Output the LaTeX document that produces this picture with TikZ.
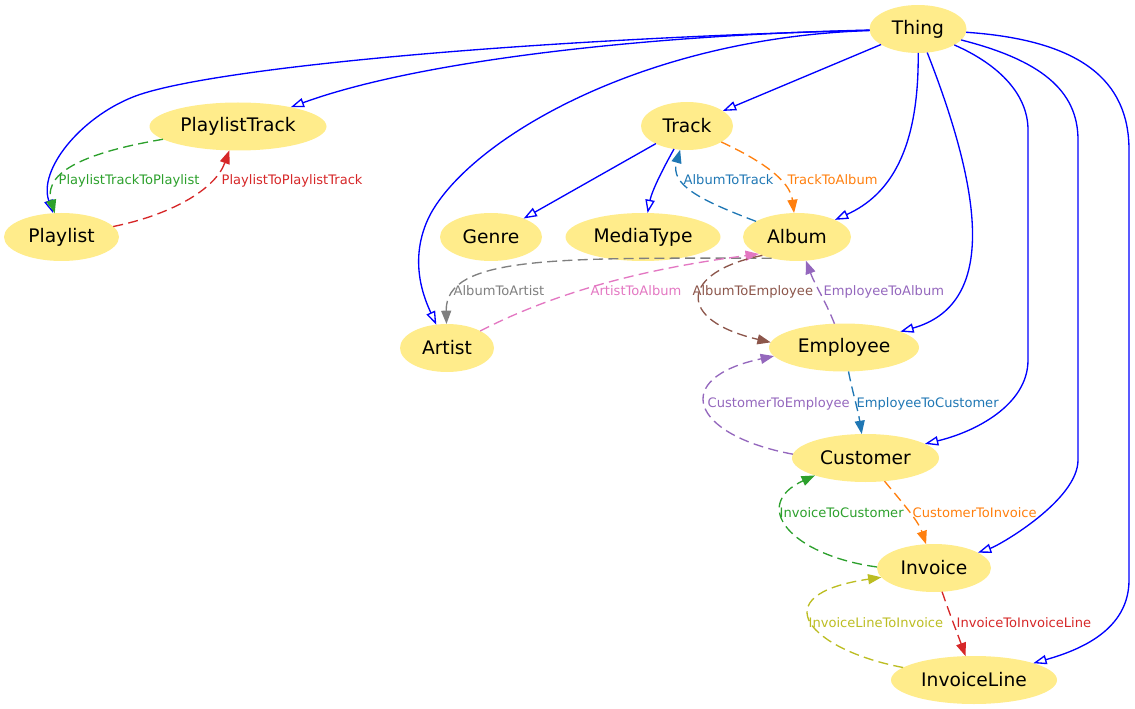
\documentclass[tikz,border=0pt]{standalone}
\usepackage{fontspec}
\setmainfont{DejaVu Sans}
\usepackage{tikz}
\usetikzlibrary{shapes.geometric,arrows.meta}
\usepackage{xcolor}

\definecolor{classfill}{RGB}{255,236,139}
\definecolor{tabblue}{HTML}{1F77B4}
\definecolor{taborange}{HTML}{FF7F0E}
\definecolor{tabgreen}{HTML}{2CA02C}
\definecolor{tabred}{HTML}{D62728}
\definecolor{tabpurple}{HTML}{9467BD}
\definecolor{tabbrown}{HTML}{8C564B}
\definecolor{tabpink}{HTML}{E377C2}
\definecolor{tabgray}{HTML}{7F7F7F}
\definecolor{tabolive}{HTML}{BCBD22}

\begin{document}
\begin{tikzpicture}[x=0.75pt, y=-0.75pt, line width=1pt,
  cls/.style={ellipse, fill=classfill, inner sep=0pt, outer sep=0pt,
    minimum height=36pt, minimum width=#1*0.75pt, font=\fontsize{14}{16}\selectfont},
  isa/.style={draw=blue, -{Triangle[open, length=10pt, width=7pt]}},
  rel/.style={draw=#1, dash pattern=on 7.5pt off 4pt, -{Triangle[length=10pt, width=7.5pt]}},
  lbl/.style={inner sep=0pt, anchor=base west, text=#1, font=\fontsize{9.8}{12}\selectfont}]
  \useasboundingbox (0,0) rectangle (1135,709);

  % Classes
  \node[cls=97]  (thing)       at (918,29)    {Thing};
  \node[cls=177] (plt)         at (238,126.5) {PlaylistTrack};
  \node[cls=92]  (track)       at (687,126)   {Track};
  \node[cls=115] (playlist)    at (61.5,237)  {Playlist};
  \node[cls=102] (genre)       at (491,237)   {Genre};
  \node[cls=155] (mediatype)   at (643,237)   {MediaType};
  \node[cls=108] (album)       at (797,237)   {Album};
  \node[cls=94]  (artist)      at (447,348)   {Artist};
  \node[cls=150] (employee)    at (844,347.5) {Employee};
  \node[cls=147] (customer)    at (865.5,458) {Customer};
  \node[cls=114] (invoice)     at (934,568)   {Invoice};
  \node[cls=166] (invoiceline) at (974,680)   {InvoiceLine};

  % Subclass edges
  \draw[isa] (thing) .. controls (500,40) and (200,70) .. (133,97)
             .. controls (80,118) and (38,170) .. (playlist);
  \draw[isa] (thing) .. controls (650,35) and (420,60) .. (plt);
  \draw[isa] (thing) .. controls (640,38) and (470,140) .. (430,215)
             .. controls (407,260) and (425,300) .. (artist);
  \draw[isa] (thing) -- (track);
  \draw[isa] (thing) .. controls (919,150) and (890,195) .. (album);
  \draw[isa] (thing) .. controls (985,200) and (995,305) .. (employee);
  \draw[isa] (thing) .. controls (1000,65) and (1028,95) .. (1028,130) -- (1028,360)
             .. controls (1028,405) and (975,432) .. (customer);
  \draw[isa] (thing) .. controls (1040,60) and (1078,90) .. (1078,140) -- (1078,460)
             .. controls (1078,500) and (1000,545) .. (invoice);
  \draw[isa] (thing) .. controls (1080,40) and (1129,80) .. (1129,150) -- (1129,580)
             .. controls (1129,630) and (1080,650) .. (invoiceline);
  \draw[isa] (track) -- (genre);
  \draw[isa] (track) .. controls (665,165) and (652,190) .. (mediatype);

  % Relations
  \draw[rel=tabgreen]  (plt) .. controls (100,150) and (42,168) .. (playlist);
  \draw[rel=tabred]    (playlist) .. controls (170,215) and (215,190) .. (plt);
  \draw[rel=tabblue]   (album) .. controls (700,200) and (670,185) .. (track);
  \draw[rel=taborange] (track) .. controls (760,160) and (790,180) .. (album);
  \draw[rel=tabgray]   (album.220) .. controls (560,258) and (445,255) .. (artist);
  \draw[rel=tabpink]   (artist) .. controls (560,290) and (650,268) .. (album.204);
  \draw[rel=tabbrown]  (album.208) .. controls (680,272) and (675,320) .. (employee.176);
  \draw[rel=tabpurple] (employee) .. controls (825,300) and (815,285) .. (album);
  \draw[rel=tabpurple] (customer.177) .. controls (690,435) and (670,378) .. (employee.187);
  \draw[rel=tabblue]   (employee) .. controls (852,390) and (858,410) .. (customer);
  \draw[rel=tabgreen]  (invoice.179) .. controls (790,555) and (750,505) .. (customer.199);
  \draw[rel=taborange] (customer) .. controls (900,500) and (918,520) .. (invoice);
  \draw[rel=tabolive]  (invoiceline.170) .. controls (810,650) and (760,595) .. (invoice.190);
  \draw[rel=tabred]    (invoice) .. controls (950,615) and (958,635) .. (invoiceline);

  % Relation labels
  \node[lbl=tabgreen]  (lPltPl)   at (58,185)  {PlaylistTrackToPlaylist};
  \node[lbl=tabred]    (lPlPlt)   at (221,185) {PlaylistToPlaylistTrack};
  \node[lbl=tabblue]   (lAlTr)    at (683,185) {AlbumToTrack};
  \node[lbl=taborange] (lTrAl)    at (787,185) {TrackToAlbum};
  \node[lbl=tabgray]   (lAlAr)    at (453,296) {AlbumToArtist};
  \node[lbl=tabpink]   (lArAl)    at (590,296) {ArtistToAlbum};
  \node[lbl=tabbrown]  (lAlEm)    at (692,296) {AlbumToEmployee};
  \node[lbl=tabpurple] (lEmAl)    at (823,296) {EmployeeToAlbum};
  \node[lbl=tabpurple] (lCuEm)    at (707,407) {CustomerToEmployee};
  \node[lbl=tabblue]   (lEmCu)    at (856,407) {EmployeeToCustomer};
  \node[lbl=tabgreen]  (lInCu)    at (779,517) {InvoiceToCustomer};
  \node[lbl=taborange] (lCuIn)    at (912,517) {CustomerToInvoice};
  \node[lbl=tabolive]  (lIlIn)    at (808,627) {InvoiceLineToInvoice};
  \node[lbl=tabred]    (lInIl)    at (956,627) {InvoiceToInvoiceLine};
\end{tikzpicture}
\end{document}
